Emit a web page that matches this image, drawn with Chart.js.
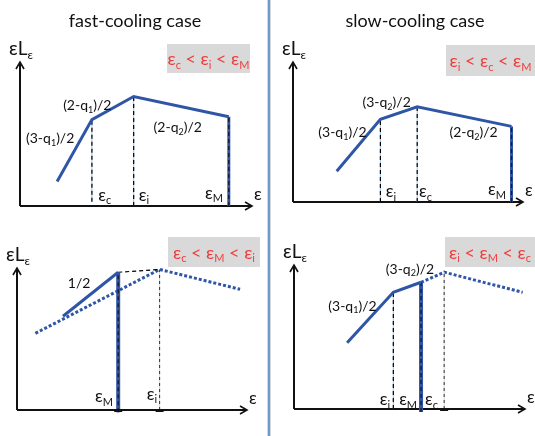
<!DOCTYPE html>
<html>
<head>
<meta charset="utf-8">
<script src="https://cdn.jsdelivr.net/npm/chart.js@4"></script>
<style>
  html, body { margin: 0; padding: 0; background: #fff; }
  #wrap { position: relative; width: 535px; height: 436px; overflow: hidden; }
  #wrap canvas { position: absolute; }
  #divider { position: absolute; left: 267px; top: 0; width: 2px; height: 436px;
             background: #6c9bd2; border-left: 1px solid #d6d6d6; border-right: 1px solid #d6d6d6; }
</style>
</head>
<body>
<div id="wrap">
  <canvas id="fastA" width="267" height="218" style="left:0;top:0"></canvas>
  <canvas id="slowA" width="264" height="218" style="left:271px;top:0"></canvas>
  <canvas id="fastB" width="267" height="218" style="left:0;top:218px"></canvas>
  <canvas id="slowB" width="264" height="218" style="left:271px;top:218px"></canvas>
  <div id="divider"></div>
</div>
<script>
// ---- data (axis units 0..100 on both axes, 100 = arrow tip) ----
// top left: fast cooling, eps_c < eps_i < eps_M
const fastAX = [16, 31, 49, 90];
const fastAY = [17, 60, 76, 62];
const fastASlopes = ['(3-q_1)/2', '(2-q_1)/2', '(2-q_2)/2'];
const fastATicks = ['ε_c', 'ε_i', 'ε_M'];

// top right: slow cooling, eps_i < eps_c < eps_M
const slowAX = [19, 38, 54, 95];
const slowAY = [22, 59, 68, 54];
const slowASlopes = ['(3-q_1)/2', '(3-q_2)/2', '(2-q_2)/2'];
const slowATicks = ['ε_i', 'ε_c', 'ε_M'];

// bottom left: eps_c < eps_M < eps_i
const fastBX = [20, 44];
const fastBY = [66, 97];
const fastBGhostX = [8, 62, 97];
const fastBGhostY = [54, 99, 85];
const fastBSlopes = ['1/2'];
const fastBTicks = ['ε_M', 'ε_i'];

// bottom right: eps_i < eps_M < eps_c
const slowBX = [23, 43, 55];
const slowBY = [46, 81, 88];
const slowBGhostX = [55, 65, 99];
const slowBGhostY = [88, 95, 81];
const slowBSlopes = ['(3-q_1)/2', '(3-q_2)/2'];
const slowBTicks = ['ε_i', 'ε_M', 'ε_c'];

const titles = ['fast-cooling case', 'slow-cooling case'];
const orders = ['ε_c < ε_i < ε_M', 'ε_i < ε_c < ε_M', 'ε_c < ε_M < ε_i', 'ε_i < ε_M < ε_c'];

// ---- styles ----
const FONT = 'Lato, "Noto Sans", "DejaVu Sans", sans-serif';
const BLUE = '#2f56a6';
const RED = '#f03c3c';
const SOLID = { borderColor: BLUE, borderWidth: 3 };
const DOTTED = { borderColor: BLUE, borderWidth: 3, borderDash: [3, 2] };
const GUIDE_BG = { borderColor: '#9dc3e6', borderWidth: 1 };
const GUIDE = { borderColor: '#000', borderWidth: 1.2, borderDash: [4, 3] };
const GREY_BG = { borderColor: '#d4d4d4', borderWidth: 1 };
const GREY = { borderColor: '#333', borderWidth: 1, borderDash: [3, 3] };
const CUT = { borderColor: BLUE, borderWidth: 4 };
const CUT_DASH = { borderColor: '#1b1b2a', borderWidth: 1.4, borderDash: [4, 3] };

function line(xs, ys, style) {
  return Object.assign({
    data: xs.map((x, i) => ({ x: x, y: ys[i] })),
    showLine: true, pointRadius: 0, fill: false, clip: false, tension: 0
  }, style);
}
function vline(x, top, style, bottom) {
  return line([x, x], [bottom === undefined ? 0 : bottom, top], style);
}

// text with "_x" subscripts
function parts(str) {
  const out = [];
  let buf = '';
  for (let i = 0; i < str.length; i++) {
    if (str[i] === '_') {
      if (buf) out.push({ t: buf, sub: false });
      buf = '';
      out.push({ t: str[i + 1], sub: true });
      i++;
    } else buf += str[i];
  }
  if (buf) out.push({ t: buf, sub: false });
  return out;
}
function drawRich(ctx, str, x, y, size, color, align) {
  const ps = parts(str);
  const fontOf = p => (p.sub ? Math.round(size * 0.62) : size) + 'px ' + FONT;
  let w = 0;
  ps.forEach(p => { ctx.font = fontOf(p); p.w = ctx.measureText(p.t).width; w += p.w; });
  let cx = align === 'left' ? x : x - w / 2;
  ctx.fillStyle = color;
  ctx.textAlign = 'left';
  ctx.textBaseline = 'middle';
  ps.forEach(p => {
    ctx.font = fontOf(p);
    ctx.fillText(p.t, cx, y + (p.sub ? size * 0.32 : 0));
    cx += p.w;
  });
}

function decor(cfg) {
  return {
    id: 'decor',
    beforeDatasetsDraw(chart) {
      const ctx = chart.ctx, sx = chart.scales.x, sy = chart.scales.y;
      const x0 = sx.getPixelForValue(0), y0 = sy.getPixelForValue(0);
      const x1 = sx.getPixelForValue(100), y1 = sy.getPixelForValue(100);
      ctx.save();
      ctx.strokeStyle = '#111';
      ctx.lineWidth = 2;
      ctx.beginPath();
      ctx.moveTo(x0, y0); ctx.lineTo(x1, y0);
      ctx.moveTo(x0, y0); ctx.lineTo(x0, y1);
      ctx.stroke();
      ctx.lineWidth = 1.6;
      ctx.beginPath();
      ctx.moveTo(x1 - 7, y0 - 4); ctx.lineTo(x1, y0); ctx.lineTo(x1 - 7, y0 + 4);
      ctx.moveTo(x0 - 4, y1 + 7); ctx.lineTo(x0, y1); ctx.lineTo(x0 + 4, y1 + 7);
      ctx.stroke();
      ctx.restore();
    },
    afterDatasetsDraw(chart) {
      const ctx = chart.ctx, sx = chart.scales.x, sy = chart.scales.y;
      const x0 = sx.getPixelForValue(0), y0 = sy.getPixelForValue(0);
      const x1 = sx.getPixelForValue(100), y1 = sy.getPixelForValue(100);
      ctx.save();
      (cfg.marks || []).forEach(v => {
        ctx.fillStyle = '#111';
        ctx.fillRect(sx.getPixelForValue(v) - 4, y0 - 1, 8, 3);
      });
      if (cfg.title) {
        ctx.font = '18px ' + FONT;
        ctx.fillStyle = '#111';
        ctx.textAlign = 'center';
        ctx.textBaseline = 'alphabetic';
        ctx.fillText(cfg.title, cfg.titleX, 27);
      }
      const b = cfg.box;
      ctx.fillStyle = '#d9d9d9';
      ctx.fillRect(b[0], b[1], b[2] - b[0], b[3] - b[1]);
      drawRich(ctx, cfg.order, (b[0] + b[2]) / 2, (b[1] + b[3]) / 2 + 1, 18, RED, 'center');
      drawRich(ctx, 'εL_ε', x0 + 1, y1 - 13, 19, '#111', 'center');
      drawRich(ctx, 'ε', x1 + 2, y0 - 11, 17, '#111', 'left');
      cfg.labels.forEach(l => {
        drawRich(ctx, l[0], sx.getPixelForValue(l[1]), sy.getPixelForValue(l[2]), l[3], '#111', 'center');
      });
      ctx.restore();
    }
  };
}

function panel(id, pad, datasets, cfg) {
  // Chart.js paints dataset 0 last, so hand them over top-most first
  return new Chart(document.getElementById(id), {
    type: 'scatter',
    data: { datasets: datasets.slice().reverse() },
    options: {
      responsive: false,
      animation: false,
      events: [],
      layout: { padding: pad },
      scales: {
        x: { type: 'linear', min: 0, max: 100, display: false },
        y: { type: 'linear', min: 0, max: 100, display: false }
      },
      plugins: { legend: { display: false }, tooltip: { enabled: false } }
    },
    plugins: [decor(cfg)]
  });
}

// top left
panel('fastA', { left: 20, right: 15, top: 62, bottom: 12 }, [
  vline(fastAX[1], fastAY[1], GUIDE_BG, 3), vline(fastAX[1], fastAY[1], GUIDE, 3),
  vline(fastAX[2], fastAY[2], GUIDE_BG), vline(fastAX[2], fastAY[2], GUIDE),
  vline(fastAX[3], fastAY[3], SOLID), vline(fastAX[3], fastAY[3], CUT_DASH),
  line(fastAX, fastAY, SOLID)
], {
  title: titles[0], titleX: 135, box: [167, 44, 250, 73], order: orders[0],
  labels: [
    [fastASlopes[0], 13, 47, 14], [fastASlopes[1], 29, 70, 14], [fastASlopes[2], 68, 54.5, 14],
    [fastATicks[0], 36.5, 7.6, 17], [fastATicks[1], 53.4, 7.6, 17], [fastATicks[2], 83.6, 9, 17]
  ]
});

// top right
panel('slowA', { left: 22, right: 12, top: 62, bottom: 16 }, [
  vline(slowAX[1], slowAY[1], GUIDE_BG), vline(slowAX[1], slowAY[1], GUIDE),
  vline(slowAX[2], slowAY[2], GUIDE_BG), vline(slowAX[2], slowAY[2], GUIDE),
  vline(slowAX[3], slowAY[3], SOLID), vline(slowAX[3], slowAY[3], CUT_DASH),
  line(slowAX, slowAY, SOLID)
], {
  title: titles[1], titleX: 144, box: [175, 45, 264, 76], order: orders[1],
  labels: [
    [slowASlopes[0], 21.5, 49.6, 14], [slowASlopes[1], 40.7, 71, 14], [slowASlopes[2], 78.5, 49.6, 14],
    [slowATicks[0], 42.6, 7.4, 17], [slowATicks[1], 57.6, 7.4, 17], [slowATicks[2], 88.7, 8.6, 17]
  ]
});

// bottom left
panel('fastB', { left: 17, right: 20, top: 50, bottom: 26 }, [
  line(fastBGhostX, fastBGhostY, DOTTED),
  line([fastBX[1], fastBGhostX[1]], [fastBY[1], fastBGhostY[1]], GUIDE),
  vline(fastBGhostX[1], fastBGhostY[1], GREY_BG), vline(fastBGhostX[1], fastBGhostY[1], GREY),
  vline(fastBX[1], fastBY[1], CUT, -1.5), vline(fastBX[1], fastBY[1], CUT_DASH, -1.5),
  line(fastBX, fastBY, SOLID)
], {
  box: [168, 19, 260, 49], order: orders[2], marks: [fastBX[1], fastBGhostX[1]],
  labels: [
    [fastBSlopes[0], 27, 89.4, 14],
    [fastBTicks[0], 37.8, 9.2, 17], [fastBTicks[1], 58.7, 11, 17]
  ]
});

// bottom right
panel('slowB', { left: 23, right: 10, top: 47, bottom: 27 }, [
  line(slowBGhostX, slowBGhostY, DOTTED),
  vline(slowBGhostX[1], slowBGhostY[1], GREY_BG), vline(slowBGhostX[1], slowBGhostY[1], GREY),
  vline(slowBX[1], slowBY[1], GUIDE_BG), vline(slowBX[1], slowBY[1], GUIDE),
  vline(slowBX[2], slowBY[2], CUT, -2), vline(slowBX[2], slowBY[2], CUT_DASH, -2),
  line(slowBX, slowBY, SOLID)
], {
  box: [174, 19, 264, 49], order: orders[3], marks: [slowBGhostX[1]],
  labels: [
    [slowBSlopes[0], 25.3, 71.5, 14], [slowBSlopes[1], 50.2, 97.2, 14],
    [slowBTicks[0], 39.4, 6.3, 17], [slowBTicks[1], 49.4, 6.3, 17], [slowBTicks[2], 59.5, 6.3, 17]
  ]
});
</script>
</body>
</html>
